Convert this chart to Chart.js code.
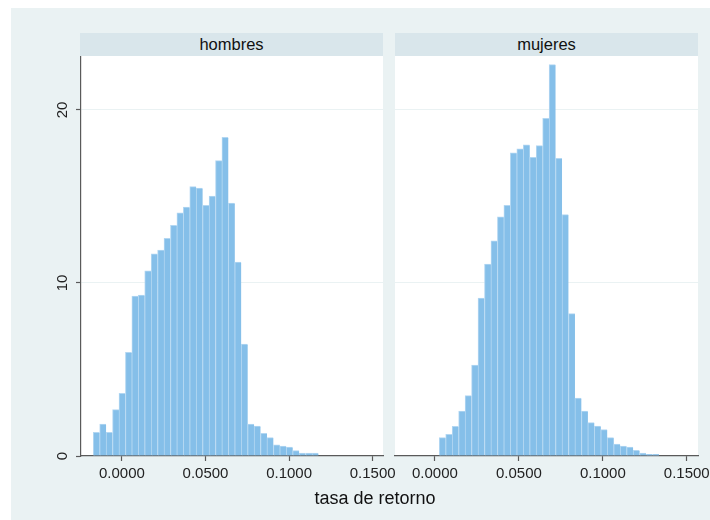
<!DOCTYPE html>
<html><head><meta charset="utf-8">
<script src="https://cdn.jsdelivr.net/npm/chart.js@4.4.1/dist/chart.umd.min.js"></script>
<style>
html,body{margin:0;padding:0;background:#fff;width:710px;height:520px;overflow:hidden;font-family:"Liberation Sans",Arial,sans-serif;}
#bg{position:absolute;left:11px;top:8px;width:699px;height:512px;background:#EAF2F3;}
.hdr{position:absolute;top:33px;height:23px;line-height:23px;background:#D9E6EB;text-align:center;font-size:16.5px;color:#111;}
.plot{position:absolute;top:56px;height:400px;background:#fff;}
canvas{position:absolute;}
#xtitle{position:absolute;left:275px;width:200px;top:488px;line-height:20px;text-align:center;font-size:18px;color:#111;}
</style></head><body>
<div id="bg"></div>
<div class="hdr" id="h1" style="left:80px;width:303px"></div>
<div class="hdr" id="h2" style="left:395px;width:303px"></div>
<div class="plot" style="left:80px;width:303px"></div>
<div class="plot" style="left:395px;width:303px"></div>
<canvas id="c1" width="410" height="440" style="left:11px;top:56px"></canvas>
<canvas id="c2" width="370" height="440" style="left:340px;top:56px"></canvas>
<div id="xtitle"></div>
<script>
// ---- data ----
const panels = ['hombres', 'mujeres'];
const axisTitle = 'tasa de retorno';
const binWidth = 0.00385;
const binStartHombres = -0.01717;
const binStartMujeres = 0.00256;
const hombres = [1.37, 1.85, 1.37, 2.68, 3.62, 5.99, 9.24, 9.30, 10.70, 11.68, 11.90, 12.58, 13.33, 14.06, 14.39, 15.57, 15.49, 14.49, 15.03, 17.07, 18.42, 14.62, 11.21, 6.47, 1.85, 1.73, 1.31, 1.06, 0.64, 0.58, 0.52, 0.31, 0.17, 0.17, 0.17];
const mujeres = [1.06, 1.25, 1.71, 2.60, 3.49, 5.26, 9.13, 11.10, 12.43, 13.82, 14.49, 17.53, 17.75, 17.99, 17.26, 17.94, 19.52, 22.62, 17.20, 13.95, 8.23, 3.35, 2.60, 1.93, 1.73, 1.52, 1.06, 0.69, 0.58, 0.52, 0.33, 0.17, 0.10, 0.10];
const xTickValues = [0, 0.05, 0.10, 0.15];
const xTickLabels = ['0.0000', '0.0500', '0.1000', '0.1500'];
const yTickValues = [0, 10, 20];
const yTickLabels = ['0', '10', '20'];

// ---- styling ----
const FONT = '"Liberation Sans", Arial, sans-serif';
const BAR = '#85BFE9';
const EDGE = '#B3D7F2';
const AX = '#5a5a5a';
const GRID = '#EAF2F3';
const YMAX = 23.12;

document.getElementById('h1').textContent = panels[0];
document.getElementById('h2').textContent = panels[1];
document.getElementById('xtitle').textContent = axisTitle;

const yLabelPlugin = {
  id: 'ylab',
  afterDraw(chart) {
    const ctx = chart.ctx, s = chart.scales.y;
    ctx.save();
    ctx.font = '15px ' + FONT;
    ctx.fillStyle = '#222';
    ctx.textAlign = 'center';
    ctx.textBaseline = 'middle';
    yTickValues.forEach((v, i) => {
      const y = s.getPixelForValue(v);
      ctx.save();
      ctx.translate(51.5, y);
      ctx.rotate(-Math.PI / 2);
      ctx.fillText(yTickLabels[i], 0, 0);
      ctx.restore();
    });
    ctx.restore();
  }
};

function makeChart(id, vals, start, xmin, xmax, yAxisW, padRight, showY) {
  const data = vals.map((v, i) => ({ x: start + (i + 0.5) * binWidth, y: v }));
  return new Chart(document.getElementById(id), {
    type: 'bar',
    data: { datasets: [{ data, backgroundColor: BAR, borderColor: EDGE,
      borderWidth: { left: 1, right: 0, top: 1, bottom: 0 },
      barPercentage: 1, categoryPercentage: 1, borderSkipped: 'start' }] },
    options: {
      responsive: false, animation: false, devicePixelRatio: 1,
      layout: { padding: { left: 0, right: padRight, top: 0, bottom: 0 } },
      plugins: { legend: { display: false }, tooltip: { enabled: false } },
      scales: {
        x: {
          type: 'linear', min: xmin, max: xmax, offset: false, z: 1,
          afterBuildTicks: s => { s.ticks = xTickValues.map(v => ({ value: v })); },
          afterFit: s => { s.height = 40; s.paddingLeft = 0; s.paddingRight = 0; },
          ticks: { callback: (v) => xTickLabels[xTickValues.indexOf(v)] ?? '', font: { size: 15, family: FONT },
            color: '#222', padding: 4, maxRotation: 0, minRotation: 0, autoSkip: false },
          grid: { offset: false, drawOnChartArea: false, drawTicks: true, tickLength: 5, tickColor: AX, tickWidth: 1.2 },
          border: { display: true, color: AX, width: 1.2 }
        },
        y: {
          min: 0, max: YMAX,
          afterBuildTicks: s => { s.ticks = yTickValues.map(v => ({ value: v })); },
          afterFit: s => { s.width = yAxisW; s.paddingTop = 0; s.paddingBottom = 0; },
          ticks: { color: 'rgba(0,0,0,0)', font: { size: 15, family: FONT }, padding: 4 },
          grid: { color: c => (c.tick && c.tick.value === 0) ? 'rgba(0,0,0,0)' : GRID, lineWidth: 1,
            drawTicks: showY, tickLength: 5, tickColor: AX, tickWidth: 1.2 },
          border: { display: showY, color: AX, width: 1.2 }
        }
      }
    },
    plugins: showY ? [yLabelPlugin] : []
  });
}

makeChart('c1', hombres, binStartHombres, -0.0245, 0.1562, 70, 38, true);
makeChart('c2', mujeres, binStartMujeres, -0.0238, 0.1567, 55, 12, false);
</script>
</body></html>
